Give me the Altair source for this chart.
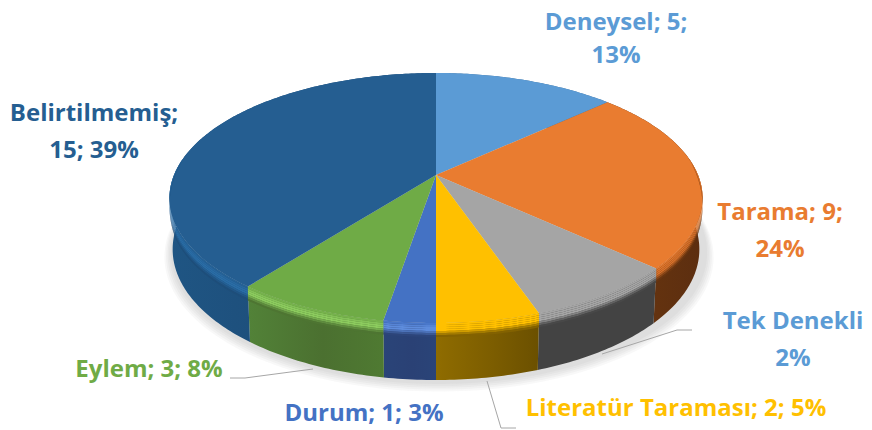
import numpy as np
import pandas as pd
import altair as alt

# --- chart values
categories = ["Deneysel", "Tarama", "Tek Denekli", "Literatür Taraması", "Durum", "Eylem", "Belirtilmemiş"]
values = [5, 9, 3, 2, 1, 3, 15]
top_colors = ["#5B9BD5", "#E97C30", "#A5A5A5", "#FFC000", "#4472C4", "#6FAB46", "#255E91"]
wall_left = ["#3F6F9A", "#6A3615", "#434343", "#8F6C00", "#2A4478", "#528238", "#1F5583"]
wall_mid = ["#3F6F9A", "#63320F", "#434343", "#7C5D00", "#2A4175", "#4B7030", "#1D4C78"]
wall_right = ["#3F6F9A", "#5C2E10", "#434343", "#6B5000", "#2A4478", "#4F7A32", "#1D4C78"]
rim_light = ["#6FAEE6", "#D9722B", "#A5A5A5", "#FFC000", "#5E8CDC", "#8CCB5E", "#2A6DA6"]
label_lines = [
    ["Deneysel; 5;", "13%"],
    ["Tarama; 9;", "24%"],
    ["Tek Denekli", "2%"],
    ["Literatür Taraması; 2; 5%"],
    ["Durum; 1; 3%"],
    ["Eylem; 3; 8%"],
    ["Belirtilmemiş;", "15; 39%"],
]
label_colors = ["#5B9BD5", "#E97C30", "#5B9BD5", "#FFC000", "#4472C4", "#6FAB46", "#255E91"]
label_x = [616, 780, 793, 676, 364, 149, 94]
label_y = [[23, 56], [213, 250], [322, 359], [409], [414], [370], [114, 151]]
leaders = [
    [(692, 330), (677, 330), (602, 354)],
    [(487, 381), (501, 428), (516, 428)],
    [(230, 378), (245, 378), (313, 369)],
]

# --- perspective pie geometry
CX, CY, R, RY, K = 436.0, 175.0, 262.0, 120.8, 0.184
X = alt.X("x:Q", axis=None, scale=alt.Scale(domain=[8, 864], zero=False, nice=False))
Y = alt.Y("y:Q", axis=None, scale=alt.Scale(domain=[429, 8], zero=False, nice=False))


def project(theta, r=1.0):
    u, v = r * np.sin(theta), -r * np.cos(theta)
    d = 1 - K * v
    return CX + R * u / d, CY + RY * v / d


def depth(theta):
    v = -np.cos(theta)
    return 50 + 7 * v


def poly(xs, ys, fill, opacity=1.0):
    xs, ys = list(xs) + [xs[0]], list(ys) + [ys[0]]
    df = pd.DataFrame({"x": xs, "y": ys, "i": range(len(xs))})
    return alt.Chart(df).mark_line(fill=fill, strokeWidth=0, fillOpacity=opacity, interpolate="linear").encode(
        x=X, y=Y, order="i:Q"
    )


def mix(a, b, t):
    ca = [int(a[i:i + 2], 16) for i in (1, 3, 5)]
    cb = [int(b[i:i + 2], 16) for i in (1, 3, 5)]
    return "#" + "".join(f"{round(p + (q - p) * t):02x}" for p, q in zip(ca, cb))


edges = np.cumsum([0] + values) / sum(values) * 2 * np.pi
layers = []

# soft shadow under the pie
all_t = np.linspace(0, 2 * np.pi, 240)
for grow, off in [(1.03, 7), (1.024, 6), (1.018, 5), (1.012, 4), (1.006, 3)]:
    sx, sy = project(all_t)
    bx = CX + (sx - CX) * grow + 3
    by = CY + (sy - CY) * grow + depth(all_t) + off
    layers.append(poly(list(bx), list(by), "#8c8c8c", 0.06))

# side walls
for i in range(len(values)):
    t = np.linspace(edges[i], edges[i + 1], max(6, int(values[i] * 12)))
    tx, ty = project(t)
    bx = CX + (tx - CX) * 0.988
    by = ty + depth(t)
    grad = alt.Gradient(
        gradient="linear", x1=0, x2=1, y1=0, y2=0,
        stops=[
            alt.GradientStop(offset=0, color=wall_left[i]),
            alt.GradientStop(offset=0.55, color=wall_mid[i]),
            alt.GradientStop(offset=1, color=wall_right[i]),
        ],
    )
    layers.append(poly(list(tx) + list(bx[::-1]), list(ty) + list(by[::-1]), grad))

# top faces
for i in range(len(values)):
    t = np.linspace(edges[i], edges[i + 1], max(6, int(values[i] * 12)))
    tx, ty = project(t)
    layers.append(poly([CX] + list(tx), [CY] + list(ty), top_colors[i]))

# bevel along the near rim: thin bands running down from the top face to the wall
band_h = np.linspace(0, 14, 8)
band_t = [0.25, 0.7, 1.0, 1.0]
for i in range(len(values)):
    t = np.linspace(edges[i], edges[i + 1], max(6, int(values[i] * 12)))
    tx, ty = project(t)
    fade = np.clip((-np.cos(t) + 0.15) / 0.55, 0, 1)
    for j in range(len(band_h) - 1):
        a, b = band_h[j], band_h[j + 1]
        if j < len(band_t):
            col = mix(top_colors[i], rim_light[i], band_t[j])
        else:
            col = mix(rim_light[i], wall_mid[i], [0.35, 0.7, 0.95][j - len(band_t)])
        xs = list(tx) + list(tx[::-1])
        ys = list(ty + fade * a) + list((ty + fade * b)[::-1])
        layers.append(poly(xs, ys, col))

# leader lines
for n, pts in enumerate(leaders):
    df = pd.DataFrame({"x": [p[0] for p in pts], "y": [p[1] for p in pts], "i": range(len(pts))})
    layers.append(alt.Chart(df).mark_line(color="#A6A6A6", strokeWidth=1).encode(x=X, y=Y, order="i:Q"))

# labels
rows = []
for lines, col, lx, lys in zip(label_lines, label_colors, label_x, label_y):
    for line, ly in zip(lines, lys):
        rows.append({"x": lx, "y": ly, "t": line, "c": col})
layers.append(
    alt.Chart(pd.DataFrame(rows)).mark_text(
        font="Open Sans", fontSize=24, fontWeight="bold", align="center", baseline="middle"
    ).encode(x=X, y=Y, text="t:N", color=alt.Color("c:N", scale=None))
)

chart = alt.layer(*layers).properties(
    width=856, height=421, padding=0, autosize=alt.AutoSizeParams(type="none"), background="white"
).configure_view(stroke=None)

chart.save("out.html", embed_options={"renderer": "svg", "actions": False})
